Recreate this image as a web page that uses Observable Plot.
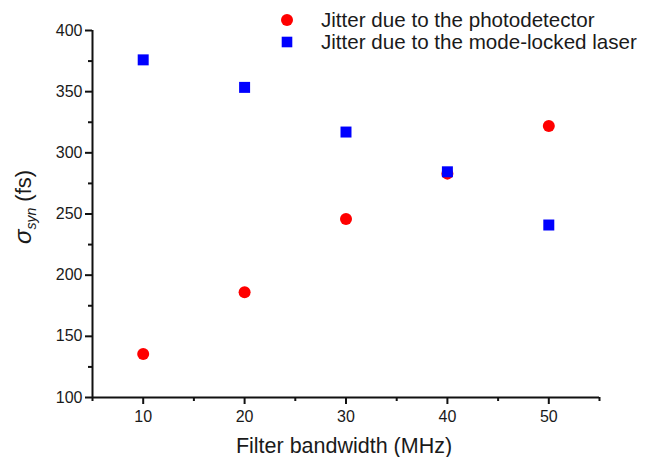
<!DOCTYPE html>
<html><head><meta charset="utf-8">
<script src="https://cdn.jsdelivr.net/npm/d3@7"></script>
<script src="https://cdn.jsdelivr.net/npm/@observablehq/plot@0.6"></script>
<style>
body{margin:0;background:#fff;font-family:"Liberation Sans",Arial,sans-serif}
#wrap{position:relative;width:667px;height:457px}
.leg{position:absolute;left:280px;height:22px;font-size:20.6px;line-height:22px;color:#1a1a1a;display:flex;align-items:center;white-space:nowrap}
.leg svg{margin-right:27px}
svg [aria-label$="tick"] path{stroke:#111 !important;stroke-width:2px !important;stroke-opacity:1 !important}
svg g[aria-label$="tick label"]{fill:#1a1a1a;font-size:16px !important}
</style></head><body><div id="wrap"></div>
<script>
const bandwidth = [10, 20, 30, 40, 50];
const photodetector = [135.5, 186, 246, 283, 322];
const modeLocked = [376, 353.5, 317, 284.5, 241];
const seriesNames = ["Jitter due to the photodetector", "Jitter due to the mode-locked laser"];
const xTicks = [10, 20, 30, 40, 50];
const xMinor = [5, 15, 25, 35, 45, 55];
const yTicks = [100, 150, 200, 250, 300, 350, 400];
const yMinor = [125, 175, 225, 275, 325, 375];
const xDomain = [5, 55];
const yDomain = [100, 400];

const pd = bandwidth.map((b, i) => ({b, v: photodetector[i]}));
const ml = bandwidth.map((b, i) => ({b, v: modeLocked[i]}));

const plot = Plot.plot({
  width: 667, height: 457,
  marginLeft: 92, marginRight: 68, marginTop: 30, marginBottom: 60,
  style: {fontFamily: '"Liberation Sans", Arial, sans-serif', color: "#1a1a1a", background: "#fff", overflow: "visible"},
  x: {domain: xDomain},
  y: {domain: yDomain},
  marks: [
    Plot.axisX({ticks: xTicks, tickSize: 7, tickPadding: 6, fontSize: 16, label: null}),
    Plot.axisX({ticks: xMinor, tickSize: 4, text: null, label: null}),
    Plot.axisY({ticks: yTicks, tickSize: 7, tickPadding: 3, fontSize: 16, label: null}),
    Plot.axisY({ticks: yMinor, tickSize: 4, text: null, label: null}),
    Plot.ruleY([yDomain[0]], {stroke: "#111", strokeWidth: 2}),
    Plot.ruleX([xDomain[0]], {stroke: "#111", strokeWidth: 2}),
    Plot.dot(pd, {x: "b", y: "v", r: 6, symbol: "circle", fill: "#f00", stroke: null}),
    Plot.dot(ml, {x: "b", y: "v", r: 6.2, symbol: "square", fill: "#00f", stroke: null})
  ]
});

const svg = d3.select(plot);
svg.append("text")
  .attr("x", 344).attr("y", 453)
  .attr("text-anchor", "middle").attr("font-size", 21.5).attr("fill", "#1a1a1a")
  .text("Filter bandwidth (MHz)");
const yl = svg.append("text")
  .attr("transform", "translate(31,207) rotate(-90)")
  .attr("text-anchor", "middle").attr("font-size", 22).attr("fill", "#1a1a1a");
yl.append("tspan").attr("font-style", "italic").attr("font-size", 24).text("σ");
yl.append("tspan").attr("font-style", "italic").attr("font-size", 14).attr("dy", 5).text("syn");
yl.append("tspan").attr("dy", -5).text(" (fs)");

const wrap = document.getElementById("wrap");
wrap.appendChild(plot);

const legendTops = [9, 31];
seriesNames.forEach((name, i) => {
  const d = document.createElement("div");
  d.className = "leg";
  d.style.top = legendTops[i] + "px";
  const sym = i === 0
    ? '<svg width="14" height="22"><circle cx="7" cy="11" r="6" fill="#f00"/></svg>'
    : '<svg width="14" height="22"><rect x="1.7" y="5.7" width="10.6" height="10.6" fill="#00f"/></svg>';
  d.innerHTML = sym + "<span></span>";
  d.querySelector("span").textContent = name;
  wrap.appendChild(d);
});
</script>
</body></html>
